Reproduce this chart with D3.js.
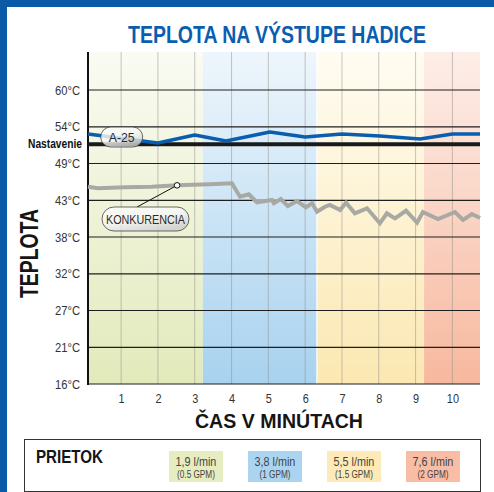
<!DOCTYPE html>
<html>
<head>
<meta charset="utf-8">
<script src="https://cdn.jsdelivr.net/npm/d3@7"></script>
<style>
  html, body { margin: 0; padding: 0; background: #fff; }
  svg { display: block; }
</style>
</head>
<body>
<div id="chart"></div>
<script>
// values (temperatures in °C, time in minutes)
var tempTicks = [15.56, 21.11, 26.67, 32.22, 37.78, 43.33, 48.89, 54.44, 60];
var tempLabels = ["16°C", "21°C", "27°C", "32°C", "38°C", "43°C", "49°C", "54°C", "60°C"];
var minuteTicks = [1, 2, 3, 4, 5, 6, 7, 8, 9, 10];
var setpoint = 51.8;

var a25Time = [0.1, 2.0, 3.0, 3.85, 5.04, 6.0, 7.0, 8.03, 9.12, 10.0, 10.75];
var a25Temp = [53.35, 51.99, 53.2, 52.3, 53.65, 52.9, 53.35, 53.05, 52.6, 53.35, 53.35];

var compTime = [0.1, 0.37, 1.1, 1.83, 2.52, 3.41, 4.01, 4.23, 4.47, 4.69, 5.1, 5.15, 5.34, 5.53,
  5.78, 6.02, 6.19, 6.32, 6.54, 6.67, 6.95, 7.11, 7.35, 7.68, 8.03, 8.22, 8.44, 8.74, 9.04,
  9.2, 9.61, 10.07, 10.29, 10.53, 10.75];
var compTemp = [45.38, 45.14, 45.29, 45.38, 45.59, 45.74, 45.9, 43.87, 44.23, 43.02, 43.37, 42.87,
  43.52, 42.46, 43.22, 42.27, 42.87, 41.6, 42.36, 42.62, 41.86, 42.96, 41.36, 42.12, 39.85, 41.36,
  40.6, 41.75, 39.94, 41.56, 40.5, 41.56, 40.35, 41.25, 40.65];

var flowStart = [0.1, 3.22, 6.32, 9.23];
var flowEnd = [3.22, 6.32, 9.23, 10.75];
var flowLabels = ["1,9 l/min", "3,8 l/min", "5,5 l/min", "7,6 l/min"];
var flowGpm = ["(0.5 GPM)", "(1 GPM)", "(1.5 GPM)", "(2 GPM)"];

// styles
var bandTop = ["#fafbf2", "#eef6fc", "#fffcf2", "#fdeee8"];
var bandBottom = ["#e2eabb", "#a8d2ef", "#fbe8b2", "#f7b89e"];
var swatchFill = ["#e5edc1", "#abd4f0", "#fdeab6", "#f9bca4"];
var sans = '"Liberation Sans", Arial, Helvetica, sans-serif';
var blue = "#0a5eb0";

var W = 494, H = 492;
var plot = {left: 88, right: 480, top: 52, bottom: 384};

var svg = d3.select("#chart").append("svg")
  .attr("width", W)
  .attr("height", H);

var defs = svg.append("defs");

var x = d3.scaleLinear().domain([0.1, 10.75]).range([plot.left, plot.right]);
var y = d3.scaleLinear().domain([15.56, 60]).range([plot.bottom, 90]);

//the reference uses a narrow helvetica, so squeeze the normal one
function narrow(sel, factor) {
  sel.each(function() {
    var len = this.getComputedTextLength();
    d3.select(this)
      .attr("textLength", len * (factor || 0.82))
      .attr("lengthAdjust", "spacingAndGlyphs");
  });
}

// blue frame
svg.append("rect").attr("x", 0).attr("y", 0).attr("width", W).attr("height", 7).attr("fill", "#0b5aa7");
svg.append("rect").attr("x", 0).attr("y", 0).attr("width", 7).attr("height", H).attr("fill", "#0b5aa7");

// title
svg.append("text")
  .attr("x", 277).attr("y", 43)
  .attr("text-anchor", "middle")
  .attr("textLength", 298).attr("lengthAdjust", "spacingAndGlyphs")
  .style("font-family", sans).style("font-weight", "bold").style("font-size", "24px")
  .style("fill", blue)
  .text("TEPLOTA NA VÝSTUPE HADICE");

// flow bands with vertical gradients
flowStart.forEach(function(s, i) {
  var g = defs.append("linearGradient").attr("id", "band" + i)
    .attr("x1", 0).attr("y1", 0).attr("x2", 0).attr("y2", 1);
  g.append("stop").attr("offset", "0").attr("stop-color", bandTop[i]);
  g.append("stop").attr("offset", "1").attr("stop-color", bandBottom[i]);
});

svg.append("g").selectAll("rect")
  .data(flowStart)
  .enter().append("rect")
    .attr("x", function(d) { return x(d); })
    .attr("y", plot.top)
    .attr("width", function(d, i) { return x(flowEnd[i]) - x(d); })
    .attr("height", plot.bottom - plot.top)
    .attr("fill", function(d, i) { return "url(#band" + i + ")"; });

// thin white gap between blue and yellow band
svg.append("line")
  .attr("x1", x(flowStart[2])).attr("x2", x(flowStart[2]))
  .attr("y1", plot.top).attr("y2", plot.bottom)
  .attr("stroke", "#fff").attr("stroke-width", 1.2);

// vertical grid
svg.append("g").selectAll("line")
  .data(minuteTicks)
  .enter().append("line")
    .attr("x1", function(d) { return x(d); })
    .attr("x2", function(d) { return x(d); })
    .attr("y1", plot.top).attr("y2", plot.bottom)
    .attr("stroke", "#8f8f88").attr("stroke-opacity", 0.5).attr("stroke-width", 1);

// horizontal grid
svg.append("g").selectAll("line")
  .data(tempTicks)
  .enter().append("line")
    .attr("x1", plot.left).attr("x2", plot.right)
    .attr("y1", function(d) { return y(d); })
    .attr("y2", function(d) { return y(d); })
    .attr("stroke", "#1f1f1f").attr("stroke-width", 1.2);

// y axis labels
var yAxis = d3.axisLeft(y)
  .tickValues(tempTicks)
  .tickSize(0)
  .tickPadding(8)
  .tickFormat(function(d, i) { return tempLabels[i]; });

svg.append("g")
  .attr("transform", "translate(" + plot.left + ",0)")
  .call(yAxis)
  .call(function(g) { g.select(".domain").remove(); })
  .selectAll("text")
    .style("font-family", sans).style("font-size", "13px").style("fill", "#333")
    .call(narrow, 0.86);

// x axis labels
var xAxis = d3.axisBottom(x)
  .tickValues(minuteTicks)
  .tickSize(0)
  .tickPadding(10)
  .tickFormat(d3.format("d"));

svg.append("g")
  .attr("transform", "translate(0," + plot.bottom + ")")
  .call(xAxis)
  .call(function(g) { g.select(".domain").remove(); })
  .selectAll("text")
    .style("font-family", sans).style("font-size", "13px").style("fill", "#333")
    .call(narrow, 0.84);

// left axis line
svg.append("line")
  .attr("x1", plot.left).attr("x2", plot.left)
  .attr("y1", plot.top).attr("y2", plot.bottom + 1)
  .attr("stroke", "#111").attr("stroke-width", 2);

// setpoint
svg.append("line")
  .attr("x1", plot.left).attr("x2", plot.right)
  .attr("y1", y(setpoint)).attr("y2", y(setpoint))
  .attr("stroke", "#1a1a1a").attr("stroke-width", 4);

svg.append("text")
  .attr("x", 82).attr("y", y(setpoint) + 4)
  .attr("text-anchor", "end")
  .attr("textLength", 54).attr("lengthAdjust", "spacingAndGlyphs")
  .style("font-family", sans).style("font-weight", "bold").style("font-size", "12px")
  .style("fill", "#111")
  .text("Nastavenie");

var line = d3.line()
  .x(function(d) { return x(d[0]); })
  .y(function(d) { return y(d[1]); });

svg.append("path")
  .datum(d3.zip(compTime, compTemp))
  .attr("d", line)
  .attr("fill", "none")
  .attr("stroke", "#a9a9a3")
  .attr("stroke-width", 4)
  .attr("stroke-linejoin", "miter");

svg.append("path")
  .datum(d3.zip(a25Time, a25Temp))
  .attr("d", line)
  .attr("fill", "none")
  .attr("stroke", blue)
  .attr("stroke-width", 3.5)
  .attr("stroke-linejoin", "round");

// pill labels
var pg = defs.append("linearGradient").attr("id", "pill")
  .attr("x1", 0).attr("y1", 0).attr("x2", 0.6).attr("y2", 1);
pg.append("stop").attr("offset", "0").attr("stop-color", "#fff");
pg.append("stop").attr("offset", "0.55").attr("stop-color", "#f6f6f6");
pg.append("stop").attr("offset", "1").attr("stop-color", "#cfcfcf");

function pill(cx, cy, w, h, label, textW) {
  svg.append("rect")
    .attr("x", cx - w / 2).attr("y", cy - h / 2)
    .attr("width", w).attr("height", h)
    .attr("rx", h / 2).attr("ry", h / 2)
    .attr("fill", "url(#pill)").attr("fill-opacity", 0.82)
    .attr("stroke", "#444").attr("stroke-width", 0.8);
  svg.append("text")
    .attr("x", cx).attr("y", cy + 4.5)
    .attr("text-anchor", "middle")
    .attr("textLength", textW).attr("lengthAdjust", "spacingAndGlyphs")
    .style("font-family", sans).style("font-size", "13.5px").style("fill", "#2a2a2a")
    .text(label);
}

pill(121.7, 137, 42, 20, "A-25", 26);

// konkurencia leader and marker
var markX = x(compTime[4]), markY = y(compTemp[4]);
svg.append("line")
  .attr("x1", 137).attr("y1", 207)
  .attr("x2", markX).attr("y2", markY)
  .attr("stroke", "#111").attr("stroke-width", 1);
pill(145.5, 219, 87, 24, "KONKURENCIA", 79);
svg.append("circle")
  .attr("cx", markX).attr("cy", markY).attr("r", 2.8)
  .attr("fill", "#fff").attr("stroke", "#111").attr("stroke-width", 1);

// axis titles
svg.append("text")
  .attr("transform", "translate(38,253.5) rotate(-90)")
  .attr("text-anchor", "middle")
  .attr("textLength", 89).attr("lengthAdjust", "spacingAndGlyphs")
  .style("font-family", sans).style("font-weight", "bold").style("font-size", "25px")
  .style("fill", "#151515")
  .text("TEPLOTA");

svg.append("text")
  .attr("x", 279).attr("y", 428)
  .attr("text-anchor", "middle")
  .attr("textLength", 168).attr("lengthAdjust", "spacingAndGlyphs")
  .style("font-family", sans).style("font-weight", "bold").style("font-size", "21px")
  .style("fill", "#151515")
  .text("ČAS V MINÚTACH");

// legend
var legend = svg.append("g");
legend.append("rect")
  .attr("x", 24.5).attr("y", 439.5).attr("width", 456).attr("height", 52)
  .attr("fill", "#fff").attr("stroke", "#333").attr("stroke-width", 1);
legend.append("text")
  .attr("x", 36).attr("y", 463)
  .attr("textLength", 67).attr("lengthAdjust", "spacingAndGlyphs")
  .style("font-family", sans).style("font-weight", "bold").style("font-size", "18px")
  .style("fill", "#151515")
  .text("PRIETOK");

var item = legend.selectAll("g.item")
  .data(flowLabels)
  .enter().append("g")
    .attr("class", "item")
    .attr("transform", function(d, i) { return "translate(" + (169 + i * 79) + ",451)"; });

item.append("rect")
  .attr("width", 54).attr("height", 31)
  .attr("fill", function(d, i) { return swatchFill[i]; });
item.append("text")
  .attr("x", 27).attr("y", 15)
  .attr("text-anchor", "middle")
  .style("font-family", sans).style("font-size", "13px").style("fill", "#444")
  .text(function(d) { return d; })
  .call(narrow, 0.83);
item.append("text")
  .attr("x", 27).attr("y", 27)
  .attr("text-anchor", "middle")
  .style("font-family", sans).style("font-size", "10px").style("fill", "#444")
  .text(function(d, i) { return flowGpm[i]; })
  .call(narrow, 0.82);
</script>
</body>
</html>
